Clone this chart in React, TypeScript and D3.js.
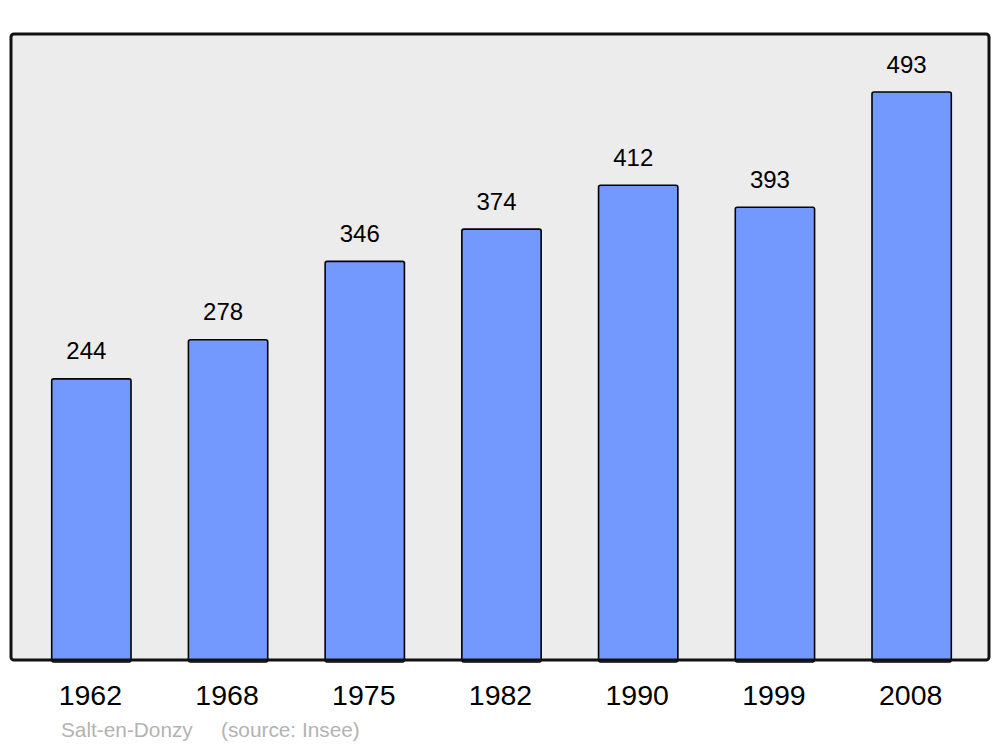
import React from "react";
import * as d3 from "d3";

const years = ["1962", "1968", "1975", "1982", "1990", "1999", "2008"];
const population = [244, 278, 346, 374, 412, 393, 493];
const communeLabel = "Salt-en-Donzy";
const sourceLabel = "(source: Insee)";

const W = 1000;
const H = 747;
const frame = { x0: 11, y0: 34, x1: 989, y1: 660 };

export default function App() {
  const x = d3
    .scaleBand<string>()
    .domain(years)
    .range([23, 980])
    .paddingInner(0.42)
    .paddingOuter(0.21);
  const y = d3.scaleLinear().domain([0, 493]).range([660, 92]);
  const font = "'Liberation Sans', Arial, sans-serif";

  return (
    <svg
      width={W}
      height={H}
      style={{ position: "absolute", left: 0, top: 0 }}
      fontFamily={font}
    >
      <rect x={0} y={0} width={W} height={H} fill="#ffffff" />
      <rect
        x={frame.x0}
        y={frame.y0}
        width={frame.x1 - frame.x0}
        height={frame.y1 - frame.y0}
        rx={3}
        fill="#ececec"
      />
      {years.map((yr, i) => {
        const bx = x(yr)!;
        const bw = x.bandwidth();
        const top = y(population[i]);
        return (
          <g key={yr}>
            <rect
              x={bx}
              y={top}
              width={bw}
              height={y(0) - top + 2}
              rx={2}
              fill="#7399ff"
              stroke="#000"
              strokeWidth={1.6}
            />
            <text
              x={bx + bw / 2 - 5}
              y={top - 19.5}
              textAnchor="middle"
              fontSize={24}
              fill="#000"
            >
              {population[i]}
            </text>
            <text
              x={bx + bw / 2 - 1}
              y={705}
              textAnchor="middle"
              fontSize={28.5}
              fill="#000"
            >
              {yr}
            </text>
          </g>
        );
      })}
      <rect
        x={frame.x0}
        y={frame.y0}
        width={frame.x1 - frame.x0}
        height={frame.y1 - frame.y0}
        rx={3}
        fill="none"
        stroke="#111"
        strokeWidth={3}
      />
      <text x={61} y={737} fontSize={20.8} fill="#b3b3b3">
        {communeLabel}
      </text>
      <text x={221} y={737} fontSize={20.8} fill="#b3b3b3">
        {sourceLabel}
      </text>
    </svg>
  );
}
